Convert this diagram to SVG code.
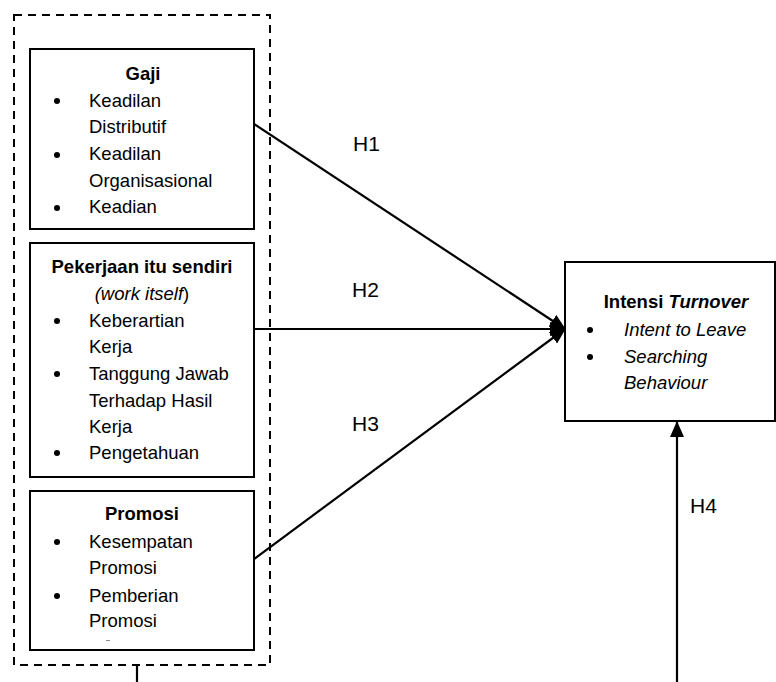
<svg xmlns="http://www.w3.org/2000/svg" width="776" height="682" viewBox="0 0 776 682">
<defs>
<style>
.box{fill:#fff;stroke:#000;stroke-width:2}
.t{font-family:"Liberation Sans",Arial,sans-serif;font-size:18.5px;fill:#000}
.b{font-weight:bold}
.i{font-style:italic}
.c{text-anchor:middle}
.h{font-family:"Liberation Sans",Arial,sans-serif;font-size:21px;fill:#000}
.ln{stroke:#000;stroke-width:2.2;fill:none}
</style>
<marker id="ah" markerWidth="16" markerHeight="14" refX="15" refY="7" orient="auto" markerUnits="userSpaceOnUse">
<path d="M0,0 L16,7 L0,14 Z" fill="#000"/>
</marker>
</defs>
<rect width="776" height="682" fill="#fff"/>
<rect x="14" y="15" width="256" height="650" fill="none" stroke="#000" stroke-width="2" stroke-dasharray="8,6"/>
<line x1="137" y1="665" x2="137" y2="682" class="ln"/>
<g id="gaji">
<rect class="box" x="30" y="49" width="224" height="180"/>
<text class="t b c" x="143" y="80">Gaji</text>
<circle cx="57" cy="101" r="3"/><circle cx="57" cy="155" r="3"/><circle cx="57" cy="208" r="3"/>
<text class="t" x="89" y="107">Keadilan</text>
<text class="t" x="89" y="133">Distributif</text>
<text class="t" x="89" y="160">Keadilan</text>
<text class="t" x="89" y="187">Organisasional</text>
<text class="t" x="89" y="213">Keadian</text>
</g>
<g id="pekerjaan">
<rect class="box" x="30" y="243" width="224" height="234"/>
<text class="t b c" x="142" y="273">Pekerjaan itu sendiri</text>
<text class="t c" x="142" y="300"><tspan class="i">(work itself</tspan>)</text>
<circle cx="57" cy="321" r="3"/><circle cx="57" cy="374" r="3"/><circle cx="57" cy="453" r="3"/>
<text class="t" x="89" y="327">Keberartian</text>
<text class="t" x="89" y="353">Kerja</text>
<text class="t" x="89" y="380">Tanggung Jawab</text>
<text class="t" x="89" y="407">Terhadap Hasil</text>
<text class="t" x="89" y="433">Kerja</text>
<text class="t" x="89" y="459">Pengetahuan</text>
</g>
<g id="promosi">
<rect class="box" x="30" y="491" width="224" height="159"/>
<text class="t b c" x="142" y="520">Promosi</text>
<circle cx="57" cy="542" r="3"/><circle cx="57" cy="596" r="3"/>
<text class="t" x="89" y="548">Kesempatan</text>
<text class="t" x="89" y="574">Promosi</text>
<text class="t" x="89" y="602">Pemberian</text>
<text class="t" x="89" y="627">Promosi</text>
<rect x="106" y="640" width="4" height="1" fill="#888"/>
</g>
<g id="intensi">
<rect class="box" x="565" y="262" width="210" height="159"/>
<text class="t c" x="676" y="308"><tspan class="b">Intensi </tspan><tspan class="b i">Turnover</tspan></text>
<circle cx="590" cy="330" r="3"/><circle cx="590" cy="357" r="3"/>
<text class="t i" x="624" y="336">Intent to Leave</text>
<text class="t i" x="624" y="363">Searching</text>
<text class="t i" x="624" y="389">Behaviour</text>
</g>
<g id="connectors">
<line class="ln" x1="254" y1="124" x2="565" y2="329" marker-end="url(#ah)"/>
<line class="ln" x1="254" y1="329" x2="565" y2="329" marker-end="url(#ah)"/>
<line class="ln" x1="254" y1="559" x2="565" y2="329" marker-end="url(#ah)"/>
<line class="ln" x1="677" y1="682" x2="677" y2="422" marker-end="url(#ah)"/>
<text class="h" x="353" y="151">H1</text>
<text class="h" x="352" y="297">H2</text>
<text class="h" x="352" y="431">H3</text>
<text class="h" x="690" y="513">H4</text>
</g>
</svg>
